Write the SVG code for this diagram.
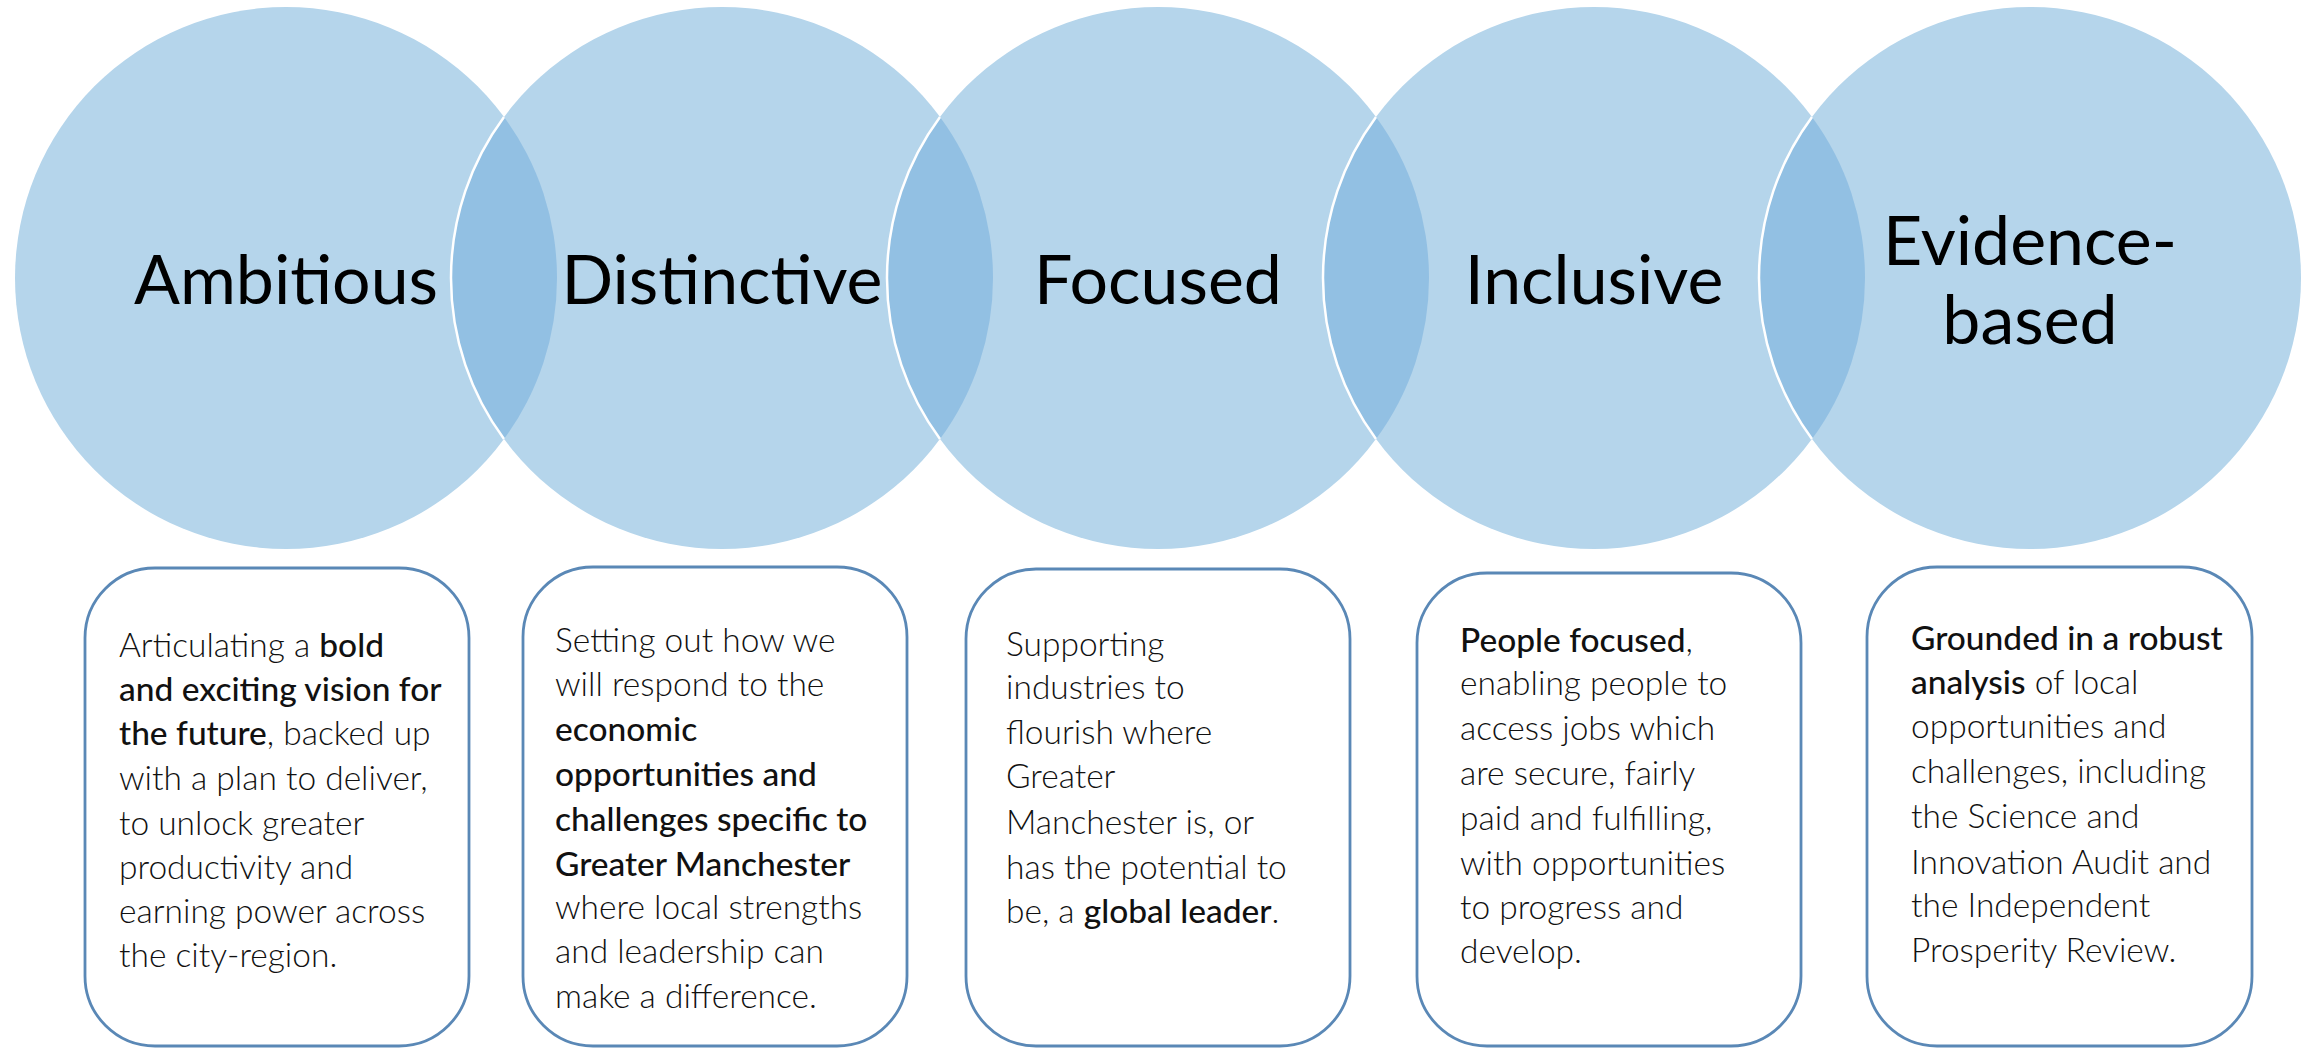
<svg xmlns="http://www.w3.org/2000/svg" width="2313" height="1050" viewBox="0 0 2313 1050">
<style>
.circ{fill:#B5D5EB}
.lens{fill:#92C0E3}
.arc{fill:none;stroke:#FFFFFF;stroke-width:2.5}
.title{font-family:Lato,"Open Sans","Liberation Sans",sans-serif;font-size:68px;fill:#000;text-anchor:middle}
.box{fill:#FFFFFF;stroke:#5A88B6;stroke-width:2.8}
.body{font-family:Lato,"Open Sans","Liberation Sans",sans-serif;font-size:33.5px;font-weight:300;fill:#111}
.b{font-weight:500}
</style>
<rect width="2313" height="1050" fill="#FFFFFF"/>
<g id="circles">
<g id="c1"><circle class="circ" cx="286" cy="278" r="271"/></g>
<g id="c2"><circle class="circ" cx="722" cy="278" r="271"/></g>
<g id="c3"><circle class="circ" cx="1158" cy="278" r="271"/></g>
<g id="c4"><circle class="circ" cx="1594" cy="278" r="271"/></g>
<g id="c5"><circle class="circ" cx="2030" cy="278" r="271"/></g>
</g>
<g id="overlaps">
<path class="lens" d="M504,117 A271,271 0 0 1 504,439 A271,271 0 0 1 504,117 Z"/>
<path class="lens" d="M940,117 A271,271 0 0 1 940,439 A271,271 0 0 1 940,117 Z"/>
<path class="lens" d="M1376,117 A271,271 0 0 1 1376,439 A271,271 0 0 1 1376,117 Z"/>
<path class="lens" d="M1812,117 A271,271 0 0 1 1812,439 A271,271 0 0 1 1812,117 Z"/>
<path class="arc" d="M504,117 A271,271 0 0 0 504,439"/>
<path class="arc" d="M940,117 A271,271 0 0 0 940,439"/>
<path class="arc" d="M1376,117 A271,271 0 0 0 1376,439"/>
<path class="arc" d="M1812,117 A271,271 0 0 0 1812,439"/>
</g>
<g id="titles">
<text class="title" x="286" y="304">Ambitious</text>
<text class="title" x="722" y="304">Distinctive</text>
<text class="title" x="1158" y="304">Focused</text>
<text class="title" x="1594" y="304">Inclusive</text>
<text class="title" x="2030" y="265">Evidence-</text>
<text class="title" x="2030" y="344">based</text>
</g>
<g id="box1">
<rect class="box" x="85" y="568" width="384" height="478" rx="70" ry="70"/>
<text class="body" x="119" y="657">Articulating a <tspan class="b">bold</tspan></text>
<text class="body" x="119" y="701"><tspan class="b">and exciting vision for</tspan></text>
<text class="body" x="119" y="745"><tspan class="b">the future</tspan>, backed up</text>
<text class="body" x="119" y="790">with a plan to deliver,</text>
<text class="body" x="119" y="835">to unlock greater</text>
<text class="body" x="119" y="879">productivity and</text>
<text class="body" x="119" y="923">earning power across</text>
<text class="body" x="119" y="967">the city-region.</text>
</g>
<g id="box2">
<rect class="box" x="523" y="567" width="384" height="479" rx="70" ry="70"/>
<text class="body" x="555" y="652">Setting out how we</text>
<text class="body" x="555" y="696">will respond to the</text>
<text class="body" x="555" y="741"><tspan class="b">economic</tspan></text>
<text class="body" x="555" y="786"><tspan class="b">opportunities and</tspan></text>
<text class="body" x="555" y="831"><tspan class="b">challenges specific to</tspan></text>
<text class="body" x="555" y="876"><tspan class="b">Greater Manchester</tspan></text>
<text class="body" x="555" y="919">where local strengths</text>
<text class="body" x="555" y="963">and leadership can</text>
<text class="body" x="555" y="1008">make a difference.</text>
</g>
<g id="box3">
<rect class="box" x="966" y="569" width="384" height="477" rx="70" ry="70"/>
<text class="body" x="1006" y="656">Supporting</text>
<text class="body" x="1006" y="699">industries to</text>
<text class="body" x="1006" y="744">flourish where</text>
<text class="body" x="1006" y="788">Greater</text>
<text class="body" x="1006" y="834">Manchester is, or</text>
<text class="body" x="1006" y="879">has the potential to</text>
<text class="body" x="1006" y="923">be, a <tspan class="b">global leader</tspan>.</text>
</g>
<g id="box4">
<rect class="box" x="1417" y="573" width="384" height="473" rx="70" ry="70"/>
<text class="body" x="1460" y="652"><tspan class="b">People focused</tspan>,</text>
<text class="body" x="1460" y="695">enabling people to</text>
<text class="body" x="1460" y="740">access jobs which</text>
<text class="body" x="1460" y="785">are secure, fairly</text>
<text class="body" x="1460" y="830">paid and fulfilling,</text>
<text class="body" x="1460" y="875">with opportunities</text>
<text class="body" x="1460" y="919">to progress and</text>
<text class="body" x="1460" y="963">develop.</text>
</g>
<g id="box5">
<rect class="box" x="1867" y="567" width="385" height="479" rx="70" ry="70"/>
<text class="body" x="1911" y="650"><tspan class="b">Grounded in a robust</tspan></text>
<text class="body" x="1911" y="694"><tspan class="b">analysis</tspan> of local</text>
<text class="body" x="1911" y="738">opportunities and</text>
<text class="body" x="1911" y="783">challenges, including</text>
<text class="body" x="1911" y="828">the Science and</text>
<text class="body" x="1911" y="874">Innovation Audit and</text>
<text class="body" x="1911" y="917">the Independent</text>
<text class="body" x="1911" y="962">Prosperity Review.</text>
</g>
<g id="connectors"></g>
</svg>
